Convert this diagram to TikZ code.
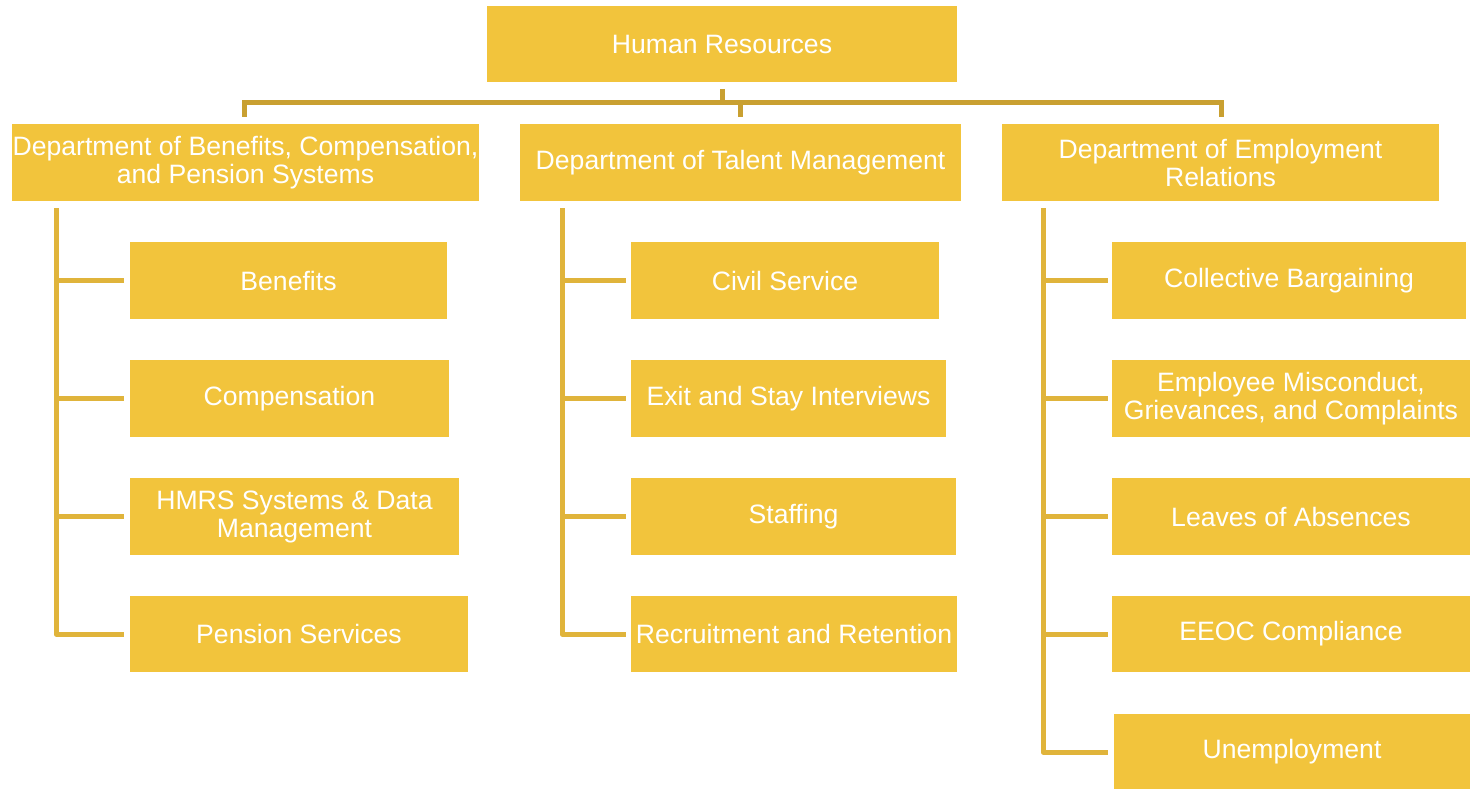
\documentclass[tikz,border=0pt]{standalone}
\usepackage{fontspec}
\setmainfont{Liberation Sans}
\definecolor{boxfill}{HTML}{F2C43C}
\definecolor{topline}{HTML}{C9A031}
\definecolor{subline}{HTML}{E0B43B}
\begin{document}
\begin{tikzpicture}[x=1pt,y=-1pt,
  box/.style={fill=boxfill,draw=none,text=white,inner sep=0pt,align=center,
    font=\fontsize{26.6}{28}\selectfont},
  topconn/.style={draw=topline,line width=5pt},
  subconn/.style={draw=subline,line width=5pt}]
\useasboundingbox (0,0) rectangle (1470,789);
\newcommand{\bx}[6]{\node[box,minimum width=#4-#2,minimum height=#5-#3] (#1) at ({(#2+#4)/2},{(#3+#5)/2}) {#6};}
\bx{hr}{487}{6}{957}{82}{Human Resources}
\bx{d1}{12}{124}{479}{201}{Department of Benefits, Compensation,\\and Pension Systems}
\bx{d2}{520}{124}{961}{201}{Department of Talent Management}
\bx{d3}{1002}{124}{1439}{201}{Department of Employment\\Relations}
\bx{a1}{130}{242}{447}{319}{Benefits}
\bx{a2}{130}{360}{449}{437}{Compensation}
\bx{a3}{130}{478}{459}{555}{HMRS Systems \& Data\\Management}
\bx{a4}{130}{596}{468}{672}{Pension Services}
\bx{b1}{631}{242}{939}{319}{Civil Service}
\bx{b2}{631}{360}{946}{437}{Exit and Stay Interviews}
\bx{b3}{631}{478}{956}{555}{Staffing}
\bx{b4}{631}{596}{957}{672}{Recruitment and Retention}
\bx{c1}{1112}{242}{1466}{319}{Collective Bargaining}
\bx{c2}{1112}{360}{1470}{437}{Employee Misconduct,\\Grievances, and Complaints}
\bx{c3}{1112}{478}{1470}{555}{Leaves of Absences}
\bx{c4}{1112}{596}{1470}{672}{EEOC Compliance}
\bx{c5}{1114}{714}{1470}{789}{Unemployment}
% top connectors
\coordinate (hrb) at (722,89);
\coordinate (bus) at (722,103);
\draw[topconn] (hrb) -- (bus);
\draw[topconn] (244,117) -- (244,103) -- (1221,103) -- (1221,117);
\draw[topconn] (740,103) -- (740,117);
% subtrees
\draw[subconn,line join=round] (56,208) -- (56,634) -- (124,634);
\foreach \y in {280,398,516} \draw[subconn] (56,\y) -- (124,\y);
\draw[subconn,line join=round] (562,208) -- (562,634) -- (626,634);
\foreach \y in {280,398,516} \draw[subconn] (562,\y) -- (626,\y);
\draw[subconn,line join=round] (1043,208) -- (1043,752) -- (1108,752);
\foreach \y in {280,398,516,634} \draw[subconn] (1043,\y) -- (1108,\y);
\end{tikzpicture}
\end{document}
